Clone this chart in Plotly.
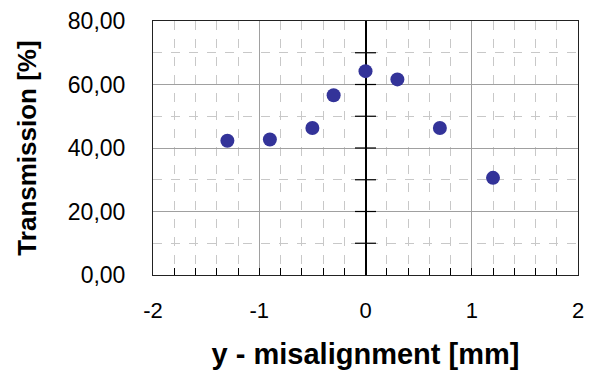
import plotly.graph_objects as go

# Measured transmission vs. lateral (y) misalignment
misalignment_mm = [-1.3, -0.9, -0.5, -0.3, 0.0, 0.3, 0.7, 1.2]
transmission_pct = [42.3, 42.7, 46.3, 56.6, 64.2, 61.6, 46.3, 30.6]

x_ticks = [-2, -1, 0, 1, 2]
y_ticks = [0, 20, 40, 60, 80]
# cross ticks drawn on the x = 0 line
zero_line_ticks = [10, 20, 30, 40, 50, 60, 70]

FONT = "Liberation Sans, Arial, sans-serif"

fig = go.Figure()
fig.add_trace(go.Scatter(
    x=[0] * len(zero_line_ticks), y=zero_line_ticks, mode="markers",
    marker=dict(symbol="line-ew", size=15, line=dict(width=1.2, color="black")),
    showlegend=False, hoverinfo="skip",
))
fig.add_trace(go.Scatter(
    x=misalignment_mm, y=transmission_pct, mode="markers",
    marker=dict(size=14, color="#333399", line=dict(width=0)),
    showlegend=False,
))

fig.update_layout(
    width=589, height=371,
    margin=dict(l=153, r=11, t=21, b=96),
    paper_bgcolor="white", plot_bgcolor="white",
    separators=",.",
    font=dict(family=FONT, color="black", size=22),
    xaxis=dict(
        range=[-2, 2], tickvals=x_ticks, ticktext=[str(v) for v in x_ticks],
        ticks="inside", ticklen=7, tickcolor="black", automargin=False,
        showline=True, linecolor="#222", linewidth=1, mirror=True,
        showgrid=True, gridcolor="#a0a0a0", gridwidth=1,
        zeroline=True, zerolinecolor="black", zerolinewidth=1.5,
        minor=dict(dtick=0.2, ticks="inside", ticklen=7, tickcolor="black",
                   showgrid=True, gridcolor="#c8c8c8", griddash="dash"),
        ticklabelstandoff=16,
        tickfont=dict(size=22),
        title=dict(text="<b>y - misalignment [mm]</b>", font=dict(size=29), standoff=21),
    ),
    yaxis=dict(
        range=[0, 80], tickvals=y_ticks, tickformat=".2f",
        ticks="", automargin=False,
        showline=True, linecolor="#222", linewidth=1, mirror=True,
        showgrid=True, gridcolor="#a0a0a0", gridwidth=1, zeroline=False,
        minor=dict(dtick=10, showgrid=True, gridcolor="#c8c8c8", griddash="dash"),
        ticklabelstandoff=22,
        tickfont=dict(size=23),
        title=dict(text="<b>Transmission [%]</b>", font=dict(size=26), standoff=23),
    ),
)

fig.write_html("out.html")
